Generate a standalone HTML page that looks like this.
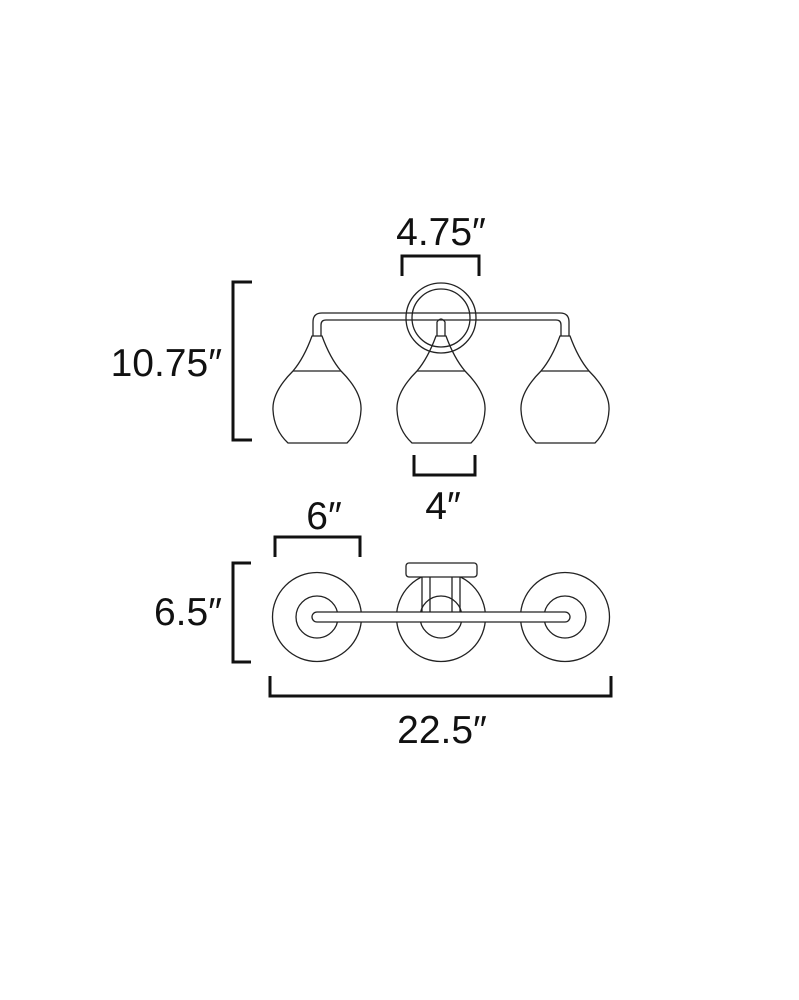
<!DOCTYPE html>
<html><head><style>html,body{margin:0;padding:0;background:#fff}svg{display:block}text{font-family:"Liberation Sans",sans-serif;font-size:39px;fill:#111}</style></head>
<body>
<svg width="799" height="1000" viewBox="0 0 799 1000" xmlns="http://www.w3.org/2000/svg">
<rect width="799" height="1000" fill="#fff"/>
<g fill="none" stroke="#111" stroke-width="3">
<path d="M252 282 H233 V440 H252"/>
<path d="M402 276 V256 H479 V276"/>
<path d="M414 455 V475 H475 V455"/>
<path d="M275 557 V537 H360 V557"/>
<path d="M251 563 H233 V662 H251"/>
<path d="M270 676 V696 H611 V676"/>
</g>
<g fill="none" stroke="#222" stroke-width="1.3">
<circle cx="441" cy="318" r="35"/>
<circle cx="441" cy="318" r="29"/>
<path d="M313 336 V322 Q313 313 322 313 H560 Q569 313 569 322 V336"/>
<path d="M321 336 V325 Q321 320 326 320 H556 Q561 320 561 325 V336"/>
<path d="M437 336 V322 Q441 316 445 322 V336"/>
<g id="shade">
<path d="M312 336 H322 Q330 358 341 371 Q362 392 361 410 Q360 430 347 443 H288 Q274 430 273 410 Q272 392 293 371 Q304 358 312 336 Z"/>
<path d="M293 371 H341"/>
</g>
<use href="#shade" transform="translate(124 0)"/>
<use href="#shade" transform="translate(248 0)"/>
<circle cx="317" cy="617" r="44.5"/><circle cx="317" cy="617" r="21"/>
<circle cx="441" cy="617" r="44.5"/><circle cx="441" cy="617" r="21"/>
<circle cx="565" cy="617" r="44.5"/><circle cx="565" cy="617" r="21"/>
<rect x="406" y="563" width="71" height="14" rx="3" fill="#fff"/>
<path d="M422 577 V612 M430 577 V612 M452 577 V612 M460 577 V612"/>
<rect x="312" y="612" width="258" height="10" rx="5" fill="#fff"/>
</g>
<text x="441" y="245" text-anchor="middle">4.75″</text>
<text x="222" y="376" text-anchor="end">10.75″</text>
<text x="443" y="519" text-anchor="middle">4″</text>
<text x="324" y="529" text-anchor="middle">6″</text>
<text x="222" y="625" text-anchor="end">6.5″</text>
<text x="442" y="743" text-anchor="middle">22.5″</text>
</svg>
</body></html>
